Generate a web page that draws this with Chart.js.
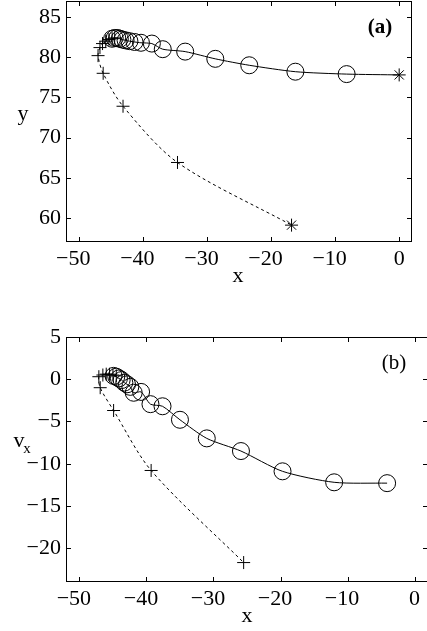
<!DOCTYPE html>
<html>
<head>
<meta charset="utf-8">
<script src="https://cdn.jsdelivr.net/npm/chart.js@4.4.1/dist/chart.umd.min.js"></script>
<style>
html, body { margin: 0; padding: 0; background: #fff; overflow: hidden; width: 427px; height: 631px; }
#boxA { position: absolute; left: 0; top: 0; width: 427px; height: 300px; }
#boxB { position: absolute; left: 0; top: 320px; width: 432px; height: 311px; }
</style>
</head>
<body>
<div id="boxA"><canvas id="chartA"></canvas></div>
<div id="boxB"><canvas id="chartB"></canvas></div>
<script>
// ---- data ----
// panel (a): y against x
const aCircleX = [-44.8, -44.4, -44.0, -43.6, -43.2, -42.7, -42.1, -41.3, -40.3, -38.6, -36.9, -33.4, -28.7, -23.4, -16.2, -8.2];
const aCircleY = [82.3, 82.4, 82.4, 82.3, 82.2, 82.1, 82.0, 81.9, 81.8, 81.7, 81.0, 80.7, 79.8, 79.0, 78.2, 77.9];
const aCircleEnd = [0, 77.8];
const aCrossX = [-44.4, -44.8, -45.3, -45.8, -46.3, -46.7, -47.0, -46.2, -43.1, -34.6];
const aCrossY = [82.4, 82.3, 82.2, 82.0, 81.7, 81.2, 80.2, 78.0, 73.9, 66.9];
const aCrossEnd = [-16.8, 59.1];
const aXTicks = [-50, -40, -30, -20, -10, 0];
const aYTicks = [60, 65, 70, 75, 80, 85];

// panel (b): v_x against x
const bCircleX = [-44.9, -44.5, -44.1, -43.7, -43.3, -42.9, -42.4, -41.9, -40.8, -39.4, -37.6, -35.0, -31.0, -25.9, -19.7, -12.0, -4.1];
const bCircleY = [0.4, 0.3, 0.1, -0.1, -0.4, -0.6, -0.9, -1.6, -1.5, -2.95, -3.2, -4.8, -7.0, -8.5, -10.9, -12.2, -12.3];
const bCrossX = [-44.5, -45.0, -45.5, -46.0, -46.5, -47.1, -46.9, -44.9, -39.3, -25.5];
const bCrossY = [0.4, 0.5, 0.6, 0.6, 0.5, 0.3, -1.0, -3.7, -10.8, -21.7];
const bXTicks = [-50, -40, -30, -20, -10, 0];
const bYTicks = [-20, -15, -10, -5, 0, 5];

const serif = '"Liberation Serif", "DejaVu Serif", serif';
const tickFont = { family: serif, size: 22 };

function toPoints(xs, ys) {
    return xs.map((x, i) => ({ x: x, y: ys[i] }));
}

function fmtY(v) {
    return v < 0 ? '\u2212' + Math.abs(v) : String(v);
}

// x labels: digits centred on the tick, minus hangs to the left
function fmtX(v) {
    return v < 0 ? '\u2212' + Math.abs(v) + '\u2007' : String(v);
}

// solid trajectory with circles, last point drawn as a star
function solidSet(points, endStar) {
    const last = points.length - 1;
    return {
        data: points,
        showLine: true,
        borderColor: '#000',
        borderWidth: 1,
        tension: 0.25,
        backgroundColor: 'rgba(0,0,0,0)',
        pointBorderColor: '#000',
        pointBorderWidth: 1,
        pointStyle: ctx => (endStar && ctx.dataIndex === last) ? 'star' : 'circle',
        pointRadius: ctx => (endStar && ctx.dataIndex === last) ? 6.5 : 8.5
    };
}

// dashed trajectory with crosses, last point optionally a star
function dashedSet(points, endStar) {
    const last = points.length - 1;
    return {
        data: points,
        showLine: true,
        borderColor: '#000',
        borderWidth: 1,
        borderDash: [3, 3],
        tension: 0.3,
        backgroundColor: 'rgba(0,0,0,0)',
        pointBorderColor: '#000',
        pointBorderWidth: 1,
        pointStyle: ctx => (endStar && ctx.dataIndex === last) ? 'star' : 'cross',
        pointRadius: 6.5
    };
}

// box, inward tick marks and the free texts
const framePlugin = {
    id: 'frame',
    afterDraw(chart, args, opts) {
        const ctx = chart.ctx;
        const a = chart.chartArea;
        const xs = chart.scales.x, ys = chart.scales.y;
        ctx.save();
        ctx.strokeStyle = '#000';
        ctx.lineWidth = 1;
        ctx.strokeRect(Math.round(a.left) + 0.5, Math.round(a.top) + 0.5,
            Math.round(a.right - a.left) - 1, Math.round(a.bottom - a.top) - 1);
        ctx.beginPath();
        xs.ticks.forEach(t => {
            const px = Math.round(xs.getPixelForValue(t.value)) + 0.5;
            ctx.moveTo(px, a.bottom); ctx.lineTo(px, a.bottom - 5);
            ctx.moveTo(px, a.top); ctx.lineTo(px, a.top + 5);
        });
        ys.ticks.forEach(t => {
            const py = Math.round(ys.getPixelForValue(t.value)) + 0.5;
            ctx.moveTo(a.left, py); ctx.lineTo(a.left + 5, py);
            ctx.moveTo(a.right, py); ctx.lineTo(a.right - 5, py);
        });
        ctx.stroke();
        ctx.fillStyle = '#000';
        ctx.textAlign = 'center';
        ctx.textBaseline = 'alphabetic';
        opts.texts.forEach(t => {
            ctx.font = (t.bold ? 'bold ' : '') + t.size + 'px ' + serif;
            ctx.fillText(t.text, t.x, t.y);
        });
        ctx.restore();
    }
};

function makeScales(xMin, xMax, yMin, yMax, xTicks, yTicks, xHeight) {
    return {
        x: {
            type: 'linear', min: xMin, max: xMax,
            grid: { display: false, drawTicks: false },
            border: { display: false },
            ticks: { font: tickFont, color: '#000', padding: 4, maxRotation: 0, callback: fmtX },
            afterBuildTicks: s => { s.ticks = xTicks.map(v => ({ value: v })); },
            afterFit: s => { s.height = xHeight; s.paddingLeft = 0; s.paddingRight = 0; }
        },
        y: {
            type: 'linear', min: yMin, max: yMax,
            grid: { display: false, drawTicks: false },
            border: { display: false },
            ticks: { font: tickFont, color: '#000', padding: 5, callback: fmtY },
            afterBuildTicks: s => { s.ticks = yTicks.map(v => ({ value: v })); },
            afterFit: s => { s.width = 66; s.paddingTop = 0; s.paddingBottom = 0; }
        }
    };
}

function baseOptions(scales, padding, texts) {
    return {
        responsive: true,
        maintainAspectRatio: false,
        animation: false,
        layout: { padding: padding, autoPadding: false },
        scales: scales,
        plugins: {
            legend: { display: false },
            tooltip: { enabled: false },
            frame: { texts: texts }
        }
    };
}

new Chart(document.getElementById('chartA'), {
    type: 'scatter',
    data: {
        datasets: [
            solidSet(toPoints(aCircleX, aCircleY).concat([{ x: aCircleEnd[0], y: aCircleEnd[1] }]), true),
            dashedSet(toPoints(aCrossX, aCrossY).concat([{ x: aCrossEnd[0], y: aCrossEnd[1] }]), true)
        ]
    },
    options: baseOptions(
        makeScales(-52, 2, 57, 87, aXTicks, aYTicks, 58),
        { top: 1, right: 15, left: 0, bottom: 0 },
        [
            { text: 'x', x: 238, y: 282, size: 22 },
            { text: 'y', x: 23, y: 120, size: 22 },
            { text: '(a)', x: 380, y: 33, size: 21, bold: true }
        ]
    ),
    plugins: [framePlugin]
});

new Chart(document.getElementById('chartB'), {
    type: 'scatter',
    data: {
        datasets: [
            solidSet(toPoints(bCircleX, bCircleY), false),
            dashedSet(toPoints(bCrossX, bCrossY), false)
        ]
    },
    options: baseOptions(
        makeScales(-52, 2, -24, 5, bXTicks, bYTicks, 49),
        { top: 17, right: 4, left: 0, bottom: 0 },
        [
            { text: 'x', x: 247, y: 302, size: 22 },
            { text: 'v', x: 19, y: 127, size: 22 },
            { text: 'x', x: 27, y: 133, size: 15 },
            { text: '(b)', x: 394, y: 49, size: 21 }
        ]
    ),
    plugins: [framePlugin]
});
</script>
</body>
</html>
